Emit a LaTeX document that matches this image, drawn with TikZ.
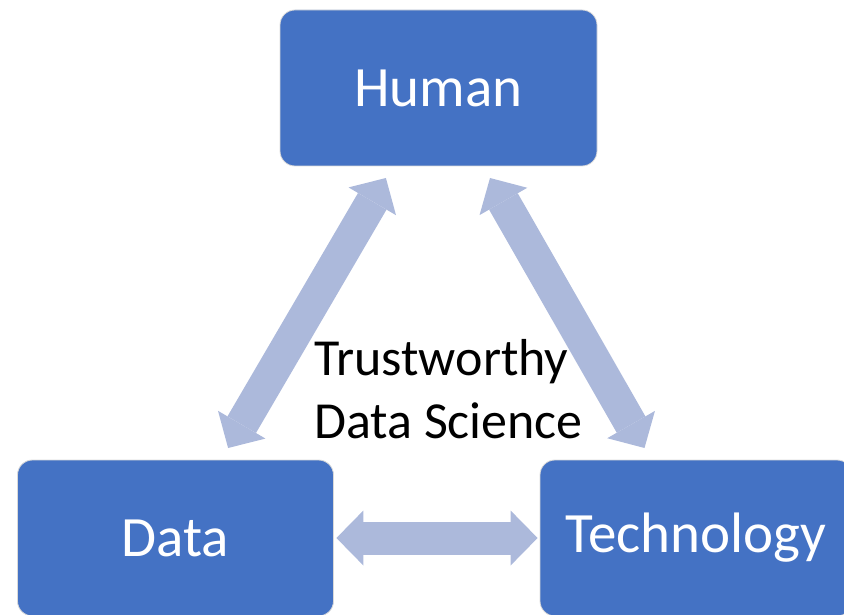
\documentclass[tikz,border=0pt]{standalone}
\usepackage{fontspec}
\setmainfont{Carlito}
\usetikzlibrary{arrows.meta,calc}
\definecolor{BoxBlue}{HTML}{4472C4}
\definecolor{LinkBlue}{HTML}{ACB9DB}
\tikzset{
  block/.style={fill=BoxBlue, draw=black!15, line width=0.8pt, rounded corners=15pt,
    minimum width=316pt, minimum height=156pt, inner sep=0pt,
    text=white, font=\fontsize{57}{68}\selectfont},
  twoway/.style={LinkBlue, line width=33pt,
    {Triangle[width=55pt,length=27pt,line width=0pt]}-{Triangle[width=55pt,length=27pt,line width=0pt]}}
}

\begin{document}
\begin{tikzpicture}[x=1pt,y=1pt]
  \useasboundingbox (0,0) rectangle (844,614);
  % the three corners
  \node[block, minimum width=317pt] (human) at (438.5,526) {Human};
  \node[block] (data) at (175.5,76) {Data};
  \node[block, minimum width=312pt] (tech) at (696,76) {Technology};
  % double links between them
  \draw[twoway] ($(data)!0.2!(human)$) -- ($(data)!0.8!(human)$);
  \draw[twoway] ($(human)!0.2!(tech)$) -- ($(human)!0.8!(tech)$);
  \draw[twoway, shorten <=2.5pt, shorten >=2pt] (data.east) -- (tech.west);
  % label in the middle
  \node[anchor=north west, inner sep=0pt, align=left,
    font=\fontsize{52}{63}\selectfont] (tds) at (314,275)
    {Trustworthy\\Data Science};
\end{tikzpicture}
\end{document}
